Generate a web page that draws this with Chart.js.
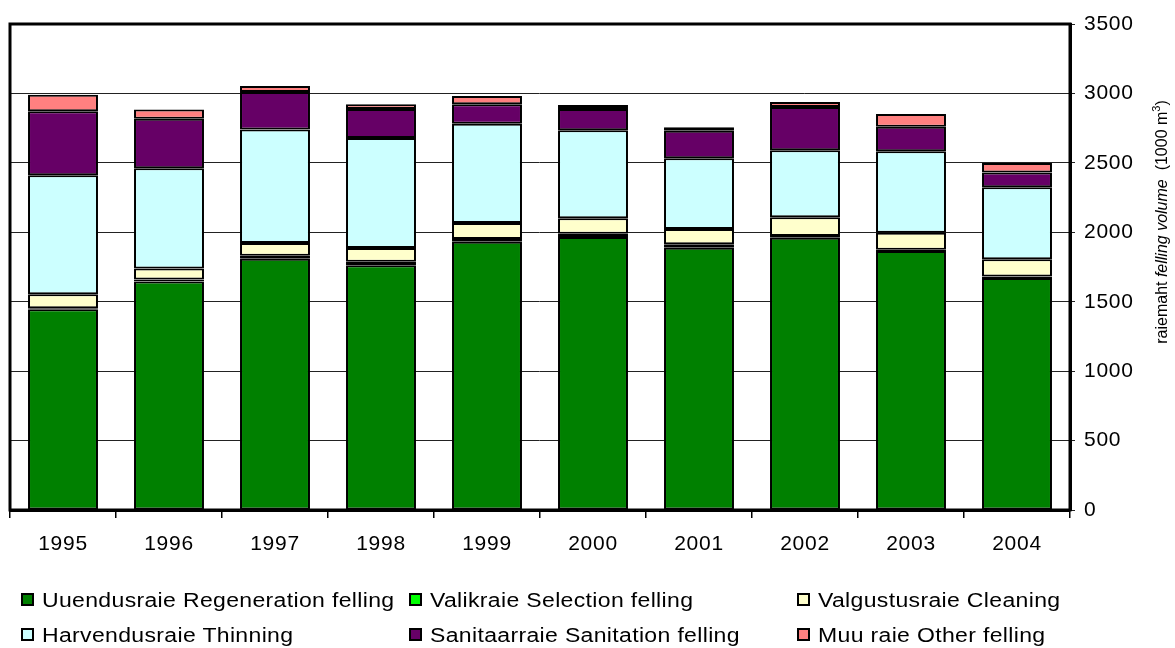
<!DOCTYPE html>
<html>
<head>
<meta charset="utf-8">
<script src="https://cdn.jsdelivr.net/npm/chart.js@4.4.1/dist/chart.umd.min.js"></script>
<style>
  html, body { margin: 0; padding: 0; background: #fff; }
  #wrap { position: relative; width: 1175px; height: 648px; overflow: hidden; }
  #c { position: absolute; left: 0; top: 0; }
  .lg { position: absolute; font-family: "Liberation Sans", Arial, sans-serif; font-size: 20px; letter-spacing: 0.3px; color: #000; white-space: nowrap; line-height: normal; transform: scaleX(1.15); transform-origin: 0 0; }
  .mk { position: absolute; width: 9px; height: 9px; border: 2px solid #000; }
</style>
</head>
<body>
<div id="wrap">
  <canvas id="c" width="1175" height="648"></canvas>
</div>
<script>
// ---- data ----
const years = ['1995','1996','1997','1998','1999','2000','2001','2002','2003','2004'];
const regeneration = [1445, 1645, 1810, 1762, 1932, 1966, 1889, 1961, 1865, 1671];
const selection    = [8, 15, 21, 26, 20, 24, 24, 12, 10, 10];
const cleaning     = [100, 80, 92, 99, 115, 111, 111, 135, 122, 125];
const thinning     = [857, 722, 818, 792, 715, 633, 509, 482, 586, 518];
const sanitation   = [461, 355, 269, 209, 140, 154, 199, 312, 177, 106];
const other        = [119, 68, 43, 34, 59, 29, 24, 36, 92, 69];
const seriesLabels = ['Uuendusraie Regeneration felling','Valikraie Selection felling','Valgustusraie Cleaning','Harvendusraie Thinning','Sanitaarraie Sanitation felling','Muu raie Other felling'];
const seriesColors = ['#008000','#00FF00','#FFFFCC','#CCFFFF','#660066','#FF8080'];
const yTicks = [0, 500, 1000, 1500, 2000, 2500, 3000, 3500];

const seriesData = [regeneration, selection, cleaning, thinning, sanitation, other];
const FONT = '"Liberation Sans", Arial, sans-serif';

const letterSpacingPlugin = {
  id: 'ls',
  beforeUpdate(c) { c.ctx.letterSpacing = '0.7px'; },
  beforeDraw(c) { c.ctx.letterSpacing = '0.7px'; }
};

const frameAndTitle = {
  id: 'frameTitle',
  afterDraw(c) {
    const ctx = c.ctx, a = c.chartArea;
    ctx.save();
    ctx.strokeStyle = '#000';
    ctx.lineWidth = 3;
    ctx.strokeRect(a.left, a.top, a.right - a.left, a.bottom - a.top);
    ctx.restore();

    ctx.save();
    ctx.letterSpacing = '0px';
    ctx.fillStyle = '#000';
    ctx.translate(1163, 222);
    ctx.rotate(-Math.PI / 2);
    ctx.textBaseline = 'middle';
    ctx.textAlign = 'left';
    const parts = [
      { t: 'raiemaht ', f: '16px ' + FONT, dy: 0 },
      { t: 'felling volume', f: 'italic 16px ' + FONT, dy: 0 },
      { t: '  (1000 m', f: '16px ' + FONT, dy: 0 },
      { t: '3', f: '11px ' + FONT, dy: -6 },
      { t: ')', f: '16px ' + FONT, dy: 0 }
    ];
    let total = 0;
    parts.forEach(p => { ctx.font = p.f; p.w = ctx.measureText(p.t).width; total += p.w; });
    let x = -total / 2;
    parts.forEach(p => { ctx.font = p.f; ctx.fillText(p.t, x, p.dy); x += p.w; });
    ctx.restore();
  }
};

const chart = new Chart(document.getElementById('c'), {
  type: 'bar',
  data: {
    labels: years,
    datasets: seriesData.map((d, i) => ({
      label: seriesLabels[i],
      data: d,
      backgroundColor: seriesColors[i],
      borderColor: '#000',
      borderWidth: 2,
      borderSkipped: false,
      barPercentage: 0.66,
      categoryPercentage: 1.0
    }))
  },
  options: {
    responsive: false,
    animation: false,
    layout: { padding: { left: 10, top: 24, right: 0, bottom: 0 } },
    plugins: { legend: { display: false }, tooltip: { enabled: false } },
    scales: {
      x: {
        stacked: true,
        grid: { drawOnChartArea: false, offset: true, tickLength: 8, color: '#000', lineWidth: 1.5 },
        border: { display: true, color: '#000', width: 3 },
        ticks: { color: '#000', font: { family: FONT, size: 21 }, padding: 14 },
        afterFit(s) { s.height = 648 - 510; }
      },
      y: {
        position: 'right',
        stacked: true,
        min: 0, max: 3500,
        afterBuildTicks(s) { s.ticks = yTicks.map(v => ({ value: v })); },
        grid: { color: '#222', lineWidth: 1, tickLength: 5 },
        border: { display: true, color: '#000', width: 3 },
        ticks: { color: '#000', font: { family: FONT, size: 21 }, padding: 9, callback: v => String(v) },
        afterFit(s) { s.width = 1175 - 1070; }
      }
    }
  },
  plugins: [letterSpacingPlugin, frameAndTitle]
});

// ---- HTML legend ----
const wrap = document.getElementById('wrap');
const colX = [21, 409, 797];
const rowMarkTop = [593, 628];
const rowTextTop = [589, 624];
seriesLabels.forEach((lab, i) => {
  const col = i % 3, row = Math.floor(i / 3);
  const mk = document.createElement('div');
  mk.className = 'mk';
  mk.style.left = colX[col] + 'px';
  mk.style.top = rowMarkTop[row] + 'px';
  mk.style.background = seriesColors[i];
  wrap.appendChild(mk);
  const tx = document.createElement('div');
  tx.className = 'lg';
  tx.style.left = (colX[col] + 21) + 'px';
  tx.style.top = rowTextTop[row] + 'px';
  tx.textContent = lab;
  wrap.appendChild(tx);
});
</script>
</body>
</html>
